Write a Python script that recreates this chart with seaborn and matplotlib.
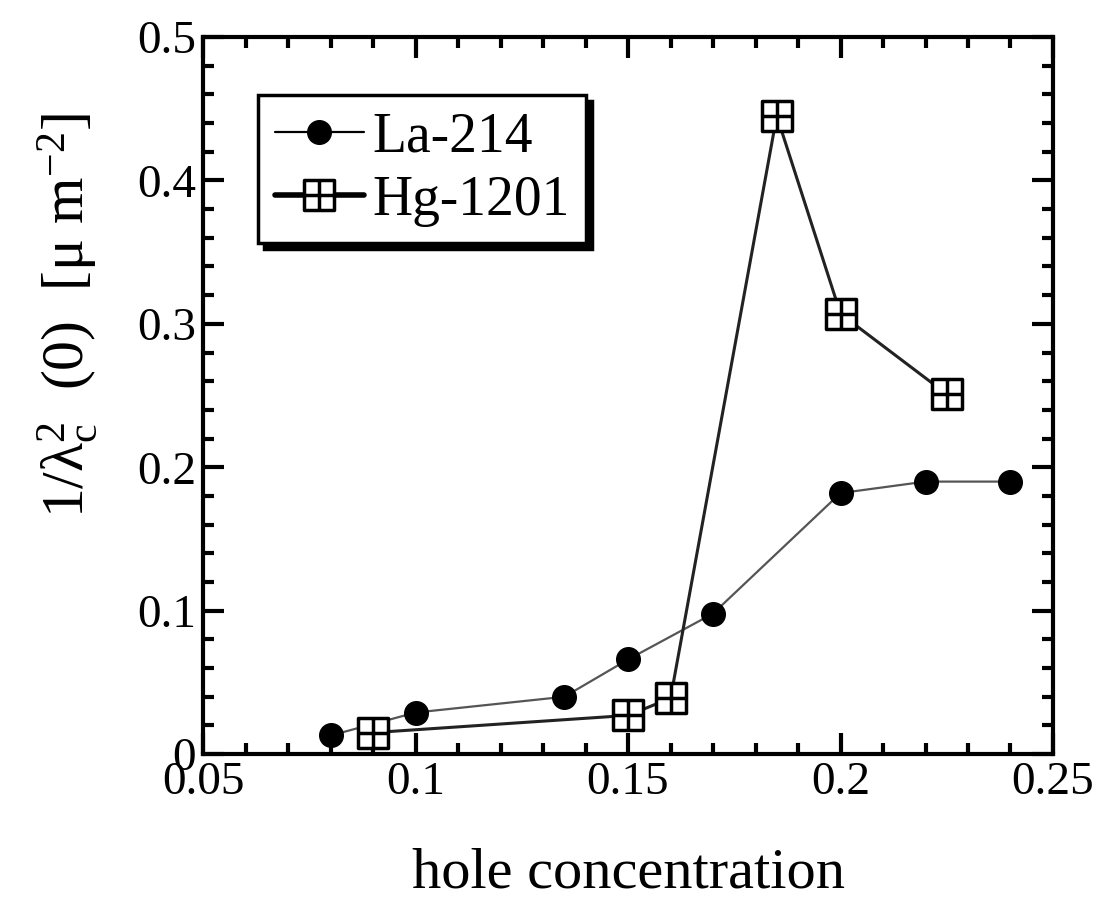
import numpy as np
import pandas as pd
import matplotlib
matplotlib.use("Agg")
import matplotlib.pyplot as plt
from matplotlib.path import Path
from matplotlib.ticker import MultipleLocator, FuncFormatter
import seaborn as sns

# data
la_x = [0.08, 0.10, 0.135, 0.15, 0.17, 0.20, 0.22, 0.24]
la_y = [0.013, 0.029, 0.040, 0.066, 0.098, 0.182, 0.190, 0.190]
hg_x = [0.09, 0.15, 0.16, 0.185, 0.20, 0.225]
hg_y = [0.015, 0.027, 0.039, 0.445, 0.307, 0.251]

la = pd.DataFrame({"hole": la_x, "lam": la_y})
hg = pd.DataFrame({"hole": hg_x, "lam": hg_y})

sns.set_style("ticks")
plt.rcParams["font.family"] = ["Liberation Serif", "DejaVu Serif"]
plt.rcParams["mathtext.fontset"] = "custom"
plt.rcParams["mathtext.rm"] = "Liberation Serif"
plt.rcParams["mathtext.it"] = "Liberation Serif:italic"
for k in ["text.color", "axes.labelcolor", "xtick.color", "ytick.color", "axes.edgecolor"]:
    plt.rcParams[k] = "black"

# square with a cross inside
verts = [(-1, -1), (1, -1), (1, 1), (-1, 1), (-1, -1),
         (0, -1), (0, 1), (-1, 0), (1, 0)]
codes = [Path.MOVETO, Path.LINETO, Path.LINETO, Path.LINETO, Path.CLOSEPOLY,
         Path.MOVETO, Path.LINETO, Path.MOVETO, Path.LINETO]
box_cross = Path(verts, codes)

fig = plt.figure(figsize=(10.98, 9.01), dpi=100)
ax = fig.add_axes([0.185, 0.163, 0.774, 0.796])

sns.lineplot(data=la, x="hole", y="lam", ax=ax, color="#555555", lw=1.6,
             marker="o", markersize=17, markerfacecolor="black",
             markeredgecolor="black", markeredgewidth=1, sort=False,
             label="La-214")
sns.lineplot(data=hg, x="hole", y="lam", ax=ax, color="#222222", lw=2.2,
             marker=box_cross, markersize=22, markerfacecolor="white",
             markeredgecolor="black", markeredgewidth=2.5, sort=False,
             label="Hg-1201")

ax.set_xlim(0.05, 0.25)
ax.set_ylim(0, 0.5)
ax.xaxis.set_major_locator(MultipleLocator(0.05))
ax.xaxis.set_minor_locator(MultipleLocator(0.01))
ax.yaxis.set_major_locator(MultipleLocator(0.1))
ax.yaxis.set_minor_locator(MultipleLocator(0.02))
ax.xaxis.set_major_formatter(FuncFormatter(lambda v, p: f"{v:g}"))
ax.yaxis.set_major_formatter(FuncFormatter(lambda v, p: f"{v:g}"))
ax.tick_params(which="both", direction="in", top=True, right=True,
               width=3, labelsize=34, pad=5)
ax.tick_params(which="major", length=15)
ax.tick_params(which="minor", length=8)
for s in ax.spines.values():
    s.set_linewidth(3)

ax.set_xlabel("hole concentration", fontsize=42, va="baseline")
ax.xaxis.set_label_coords(0.5, -0.186)
ax.set_ylabel(r"1/λ$^{2}_{\rm c}$  (0)  [μ m$^{-2}$]", fontsize=43)
ax.yaxis.set_label_coords(-0.121, 0.611)

leg = ax.legend(loc="upper left", bbox_to_anchor=(0.065, 0.919), borderaxespad=0,
                fontsize=40, frameon=True, fancybox=False,
                shadow={"color": "black", "alpha": 1, "ox": 4, "oy": -4},
                edgecolor="black", framealpha=1, handlelength=1.6, handletextpad=0.15,
                borderpad=0.3, labelspacing=0.2)
leg.get_frame().set_linewidth(2.5)
leg.get_lines()[0].set_color("black")
leg.get_lines()[1].set_color("black")
leg.get_lines()[1].set_linewidth(4)

fig.savefig("out.png", dpi=100)
